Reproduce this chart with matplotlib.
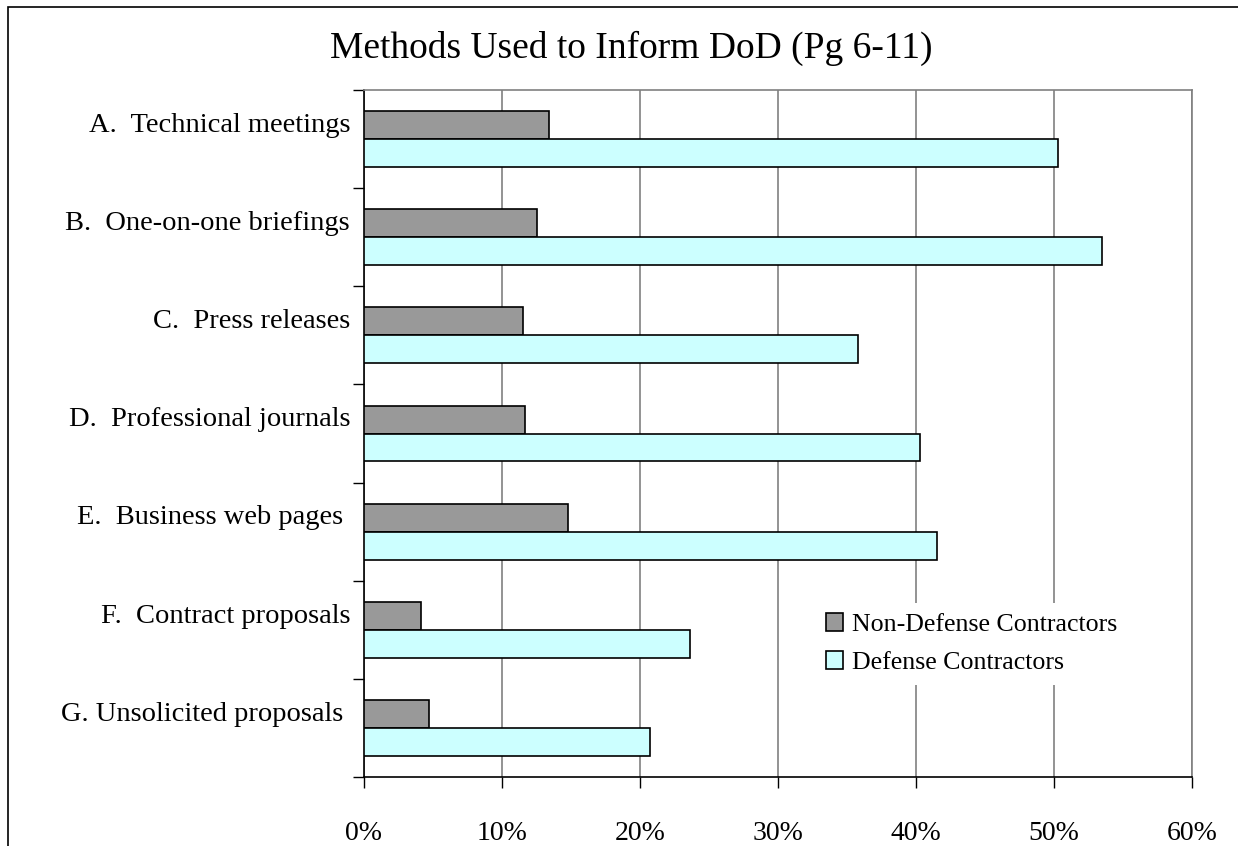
import numpy as np
import matplotlib.pyplot as plt
from matplotlib.patches import Rectangle
from matplotlib.ticker import FuncFormatter

plt.rcParams['font.family'] = ['Liberation Serif', 'DejaVu Serif']

categories = ["A.  Technical meetings", "B.  One-on-one briefings", "C.  Press releases",
              "D.  Professional journals", "E.  Business web pages ", "F.  Contract proposals",
              "G. Unsolicited proposals "]
non_defense = [13.4, 12.5, 11.5, 11.7, 14.8, 4.1, 4.7]
defense = [50.3, 53.5, 35.8, 40.3, 41.5, 23.6, 20.7]
x_ticks = [0, 10, 20, 30, 40, 50, 60]

fig = plt.figure(figsize=(12.38, 8.46), dpi=100)
ax = fig.add_axes([364 / 1238, 1 - 777 / 846, (1192 - 364) / 1238, (777 - 90) / 846])

# outer border of the chart area (cut off at bottom)
fig.patches.append(Rectangle((8 / 1238, -0.05), 1.2, 1 - 7 / 846 + 0.05,
                             transform=fig.transFigure, fill=False,
                             edgecolor='black', linewidth=1.2))

n = len(categories)
pos = np.arange(n)
h = 0.285
ax.barh(pos - h / 2, non_defense, height=h, color='#999999', edgecolor='black',
        linewidth=1.2, label='Non-Defense Contractors', zorder=3)
ax.barh(pos + h / 2, defense, height=h, color='#CCFFFF', edgecolor='black',
        linewidth=1.2, label='Defense Contractors', zorder=3)

ax.set_ylim(n - 0.5, -0.5)
ax.set_xlim(0, 60)
ax.set_xticks(x_ticks)
ax.xaxis.set_major_formatter(FuncFormatter(lambda v, p: f"{v:.0f}%"))
ax.tick_params(axis='x', length=8, width=1, direction='out', pad=24, labelsize=20)

# labels sit a little above the category centre, as in the original
ax.set_yticks(pos - 0.17)
ax.set_yticklabels(categories, fontsize=20.5)
ax.tick_params(axis='y', length=0, pad=10)
ax.set_yticks(np.arange(n + 1) - 0.5, minor=True)
ax.tick_params(axis='y', which='minor', length=8, width=1, direction='out')

ax.grid(axis='x', color='#808080', linewidth=1.2, zorder=0)
ax.spines['top'].set_color('#808080')
ax.spines['right'].set_color('#808080')
for s in ax.spines.values():
    s.set_linewidth(1.2)

leg = ax.legend(loc='center left', bbox_to_anchor=(0.53, 0.194), frameon=True, fontsize=18.6,
                handlelength=0.65, handleheight=0.65, handletextpad=0.35, labelspacing=0.6,
                facecolor='white', edgecolor='none', framealpha=1, fancybox=False)

fig.text(0.51, 1 - 48 / 846, "Methods Used to Inform DoD (Pg 6-11)", ha='center', va='center',
         fontsize=27)

fig.savefig("out.png", dpi=100)
